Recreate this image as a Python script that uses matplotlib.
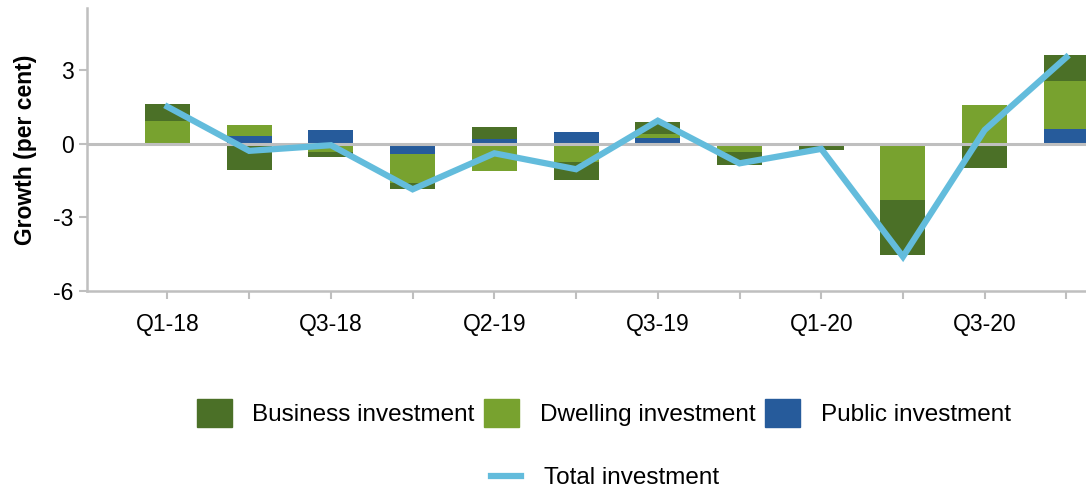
import numpy as np
import matplotlib
matplotlib.use('Agg')
import matplotlib.pyplot as plt
from matplotlib.patches import Patch
from matplotlib.lines import Line2D

# %%
quarters = ['Q1-18', '', 'Q3-18', '', 'Q2-19', '', 'Q3-19', '', 'Q1-20', '',
            'Q3-20', '']
business = [0.69, -1.05, -0.24, -0.23, 0.49, -0.73, 0.48, -0.52, -0.24,
            -2.24, -0.97, 1.06]
dwelling = [0.94, 0.45, -0.31, -1.18, -1.10, -0.73, 0.16, -0.33, 0.02,
            -2.18, 1.59, 1.96]
public = [-0.05, 0.33, 0.57, -0.41, 0.20, 0.49, 0.26, 0.02, 0.0, -0.10,
          -0.03, 0.61]
total = [1.52, -0.28, -0.05, -1.85, -0.38, -1.03, 0.95, -0.79, -0.20, -4.60,
         0.57, 3.54]

c_bus = '#4B7027'
c_dwl = '#78A22F'
c_pub = '#265B9B'
c_tot = '#63BCDC'
grey = '#BFBFBF'

plt.rcParams['font.family'] = ['Liberation Sans', 'DejaVu Sans']
plt.rcParams['axes.unicode_minus'] = False
fs = 16.5
fs_leg = 17.5

# %%
fig = plt.figure(figsize=(10.86, 4.9), dpi=100)
ax = fig.add_axes([87 / 1086, 1 - 291 / 490, 1 - 87 / 1086, (291 - 8) / 490])

x = np.arange(len(quarters))
w = 0.55
pos_base = np.zeros(len(x))
neg_base = np.zeros(len(x))
# Excel stacks public first, then dwelling, then business
for vals, col in [(public, c_pub), (dwelling, c_dwl), (business, c_bus)]:
    v = np.array(vals)
    base = np.where(v >= 0, pos_base, neg_base)
    ax.bar(x, v, w, bottom=base, color=col, zorder=2)
    pos_base += np.where(v >= 0, v, 0)
    neg_base += np.where(v < 0, v, 0)

ax.axhline(0, color=grey, lw=2.2, zorder=3)
ax.plot(x, total, color=c_tot, lw=4.5, zorder=4, solid_joinstyle='miter')

ax.set_xlim(-0.985, 11.24)
ax.set_ylim(-6, 5.55)
ax.set_yticks([-6, -3, 0, 3])
ax.set_xticks(x)
ax.set_xticklabels(quarters, fontsize=fs)
ax.tick_params(axis='y', labelsize=fs, color=grey, width=1.5, length=6)
ax.tick_params(axis='x', color=grey, width=1.5, length=6, pad=10)
for s in ['top', 'right']:
    ax.spines[s].set_visible(False)
for s in ['left', 'bottom']:
    ax.spines[s].set_color(grey)
    ax.spines[s].set_linewidth(1.8)
ax.set_ylabel('Growth (per cent)', fontsize=fs, fontweight='bold',
              labelpad=12)

handles = [Patch(color=c_bus), Patch(color=c_dwl), Patch(color=c_pub)]
fig.legend(handles, ['Business investment', 'Dwelling investment',
                     'Public investment'],
           loc='center', bbox_to_anchor=(0.556, 0.157), ncol=3, frameon=False,
           fontsize=fs_leg, handlelength=1.44, handleheight=1.44,
           handletextpad=0.85, columnspacing=0.4)
fig.legend([Line2D([], [], color=c_tot, lw=4.5)], ['Total investment'],
           loc='center', bbox_to_anchor=(0.557, 0.024), frameon=False,
           fontsize=fs_leg, handlelength=1.25, handletextpad=0.95)

fig.savefig('out.png', dpi=100)
